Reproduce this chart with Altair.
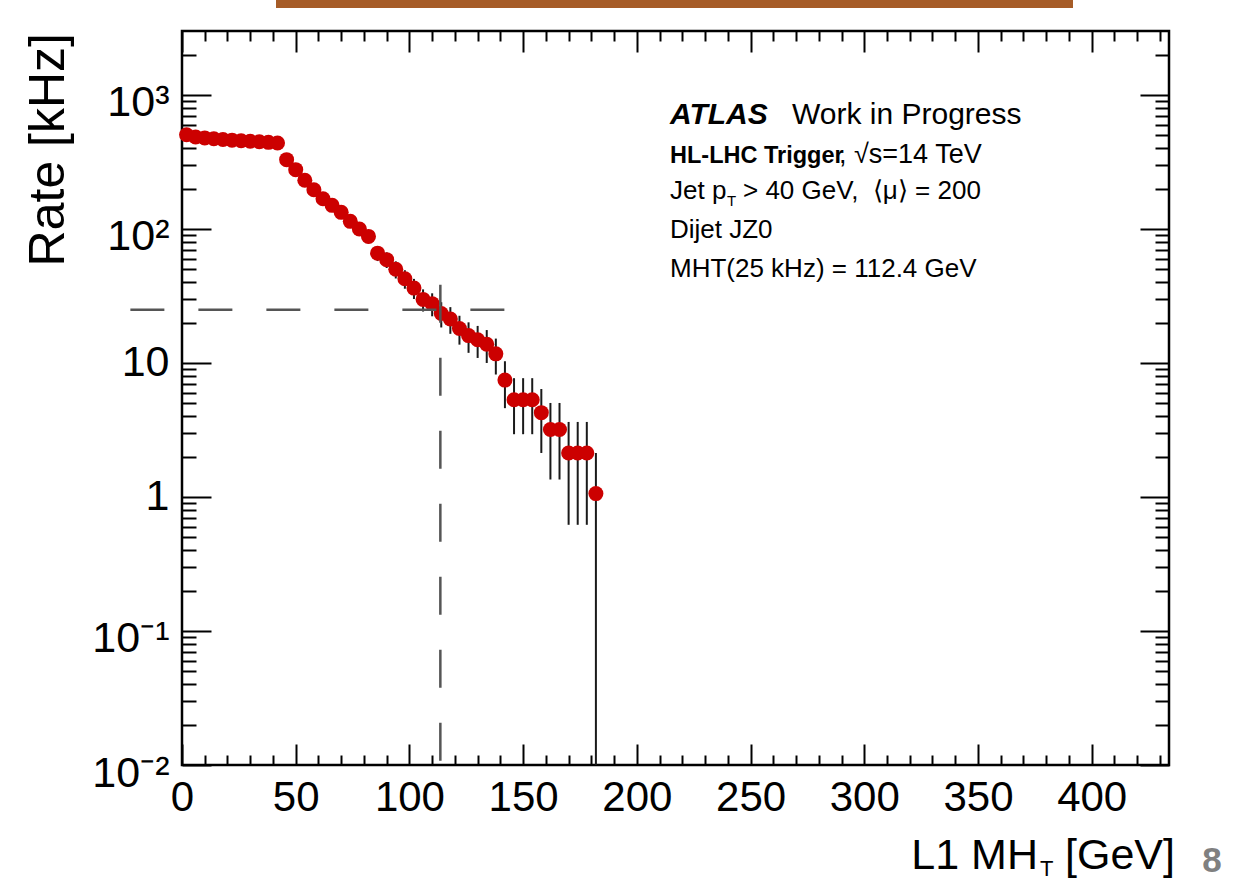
import altair as alt
import pandas as pd

# ---------------- data ----------------
mht_gev = [2, 6, 10, 14, 18, 22, 26, 30, 34, 38, 42,
           46, 50, 54, 58, 62, 66, 70, 74, 78, 82, 86, 90, 94, 98, 102,
           106, 110, 114, 118, 122, 126, 130, 134, 138, 142, 146, 150, 154,
           158, 162, 166, 170, 174, 178, 182]
rate_khz = [505, 485, 478, 471, 465, 460, 455, 451, 447, 443, 438,
            329, 277, 231, 196, 168, 150, 133, 114, 100, 88, 66, 59, 50, 42.5, 36.2,
            29.8, 27.7, 23.4, 21.3, 18.1, 16.0, 14.9, 13.8, 11.7, 7.45, 5.32, 5.32, 5.32,
            4.26, 3.19, 3.19, 2.13, 2.13, 2.13, 1.06]
err_low = [482, 462, 455, 449, 443, 438, 433, 429, 425, 421, 416,
           310, 260, 215, 182, 155, 137, 121, 103, 90, 78, 57.6, 51.1, 42.7, 35.8, 30.0,
           24.2, 22.3, 18.4, 16.5, 13.7, 11.9, 10.9, 10.0, 8.2, 4.6, 2.94, 2.94, 2.94,
           2.13, 1.35, 1.35, 0.62, 0.62, 0.62, 0.01]
err_high = [528, 508, 500, 493, 487, 482, 477, 473, 469, 465, 460,
            348, 294, 247, 210, 181, 163, 145, 125, 110, 98, 74.4, 66.9, 57.3, 49.2, 42.4,
            35.4, 33.1, 28.4, 26.1, 22.5, 20.1, 18.9, 17.6, 15.2, 10.3, 7.70, 7.70, 7.70,
            6.39, 5.03, 5.03, 3.63, 3.63, 3.63, 2.13]

cut_rate = [25]
hline_x_start = [-22.7]
hline_x_end = [142.2]
cut_mht = [113.6]
vline_y_top = [38.4]
vline_y_bottom = [0.0077]

x_domain = [0, 434]
y_domain = [0.01, 3000]
x_major = [0, 50, 100, 150, 200, 250, 300, 350, 400]
x_minor = [10, 20, 30, 40, 60, 70, 80, 90, 110, 120, 130, 140, 160, 170, 180, 190,
           210, 220, 230, 240, 260, 270, 280, 290, 310, 320, 330, 340, 360, 370, 380,
           390, 410, 420, 430]
y_major = [0.01, 0.1, 1, 10, 100, 1000]
y_minor = [0.02, 0.03, 0.04, 0.05, 0.06, 0.07, 0.08, 0.09,
           0.2, 0.3, 0.4, 0.5, 0.6, 0.7, 0.8, 0.9,
           2, 3, 4, 5, 6, 7, 8, 9,
           20, 30, 40, 50, 60, 70, 80, 90,
           200, 300, 400, 500, 600, 700, 800, 900, 2000]
y_label_expr = ("datum.value >= 1000 ? '10³' : datum.value >= 100 ? '10²' : "
                "datum.value >= 10 ? '10' : datum.value >= 1 ? '1' : "
                "datum.value >= 0.1 ? '10⁻¹' : '10⁻²'")

x_title_parts = ["L1 MH", "T", " [GeV]"]
y_title = "Rate [kHz]"
legend_lines = ["ATLAS", "Work in Progress", "HL-LHC Trigger", ", √s=14 TeV",
                "Jet p", "T", "> 40 GeV,\u00a0 ⟨μ⟩ = 200", "Dijet JZ0",
                "MHT(25 kHz) = 112.4 GeV"]
page_number = "8"

FONT = "Liberation Sans"
W, H = 987, 734

df = pd.DataFrame({"mht": mht_gev, "rate": rate_khz, "lo": err_low, "hi": err_high})
df_h = pd.DataFrame({"x": hline_x_start, "x2": hline_x_end, "y": cut_rate})
df_v = pd.DataFrame({"x": cut_mht, "y": vline_y_top, "y2": vline_y_bottom})

xs = alt.Scale(domain=x_domain, nice=False, zero=False)
ys = alt.Scale(type="log", domain=y_domain, nice=False)


def x_axis(orient, values, size, labels):
    kw = dict(orient=orient, values=values, tickSize=size, offset=-size, domain=False,
              grid=False, labels=labels, ticks=True, tickColor="black", tickWidth=2,
              title=None, labelFlush=False, labelOverlap=False)
    if labels:
        kw.update(labelFont=FONT, labelFontSize=42, labelPadding=12, labelColor="black")
    return alt.Axis(**kw)


def y_axis(orient, values, size, labels):
    kw = dict(orient=orient, values=values, tickSize=size, offset=-size, domain=False,
              grid=False, labels=labels, ticks=True, tickColor="black", tickWidth=2,
              title=None, labelFlush=False, labelOverlap=False)
    if labels:
        kw.update(labelFont=FONT, labelFontSize=43, labelPadding=13, labelColor="black",
                  labelExpr=y_label_expr,
                  labelOffset={"condition": {"test": "datum.value >= 100 || datum.value < 1",
                                             "value": 8}, "value": 0})
    return alt.Axis(**kw)


errbars = alt.Chart(df).mark_rule(color="#1a1a1a", strokeWidth=2).encode(
    x=alt.X("mht:Q", scale=xs, axis=x_axis("top", x_major, 21, False)),
    y=alt.Y("lo:Q", scale=ys, axis=y_axis("right", y_major, 29, False)),
    y2="hi:Q",
)
points = alt.Chart(df).mark_circle(size=225, color="#cc0000", opacity=1).encode(
    x=alt.X("mht:Q", scale=xs, axis=x_axis("top", x_minor, 10, False)),
    y=alt.Y("rate:Q", scale=ys, axis=y_axis("right", y_minor, 14, False)),
)
hline = alt.Chart(df_h).mark_rule(color="#555555", strokeWidth=2.5, strokeDash=[34, 34]).encode(
    x=alt.X("x:Q", scale=xs, axis=x_axis("bottom", x_major, 21, True)),
    x2="x2:Q",
    y=alt.Y("y:Q", scale=ys, axis=y_axis("left", y_major, 29, True)),
)
vline = alt.Chart(df_v).mark_rule(color="#555555", strokeWidth=2.5, strokeDash=[38, 35]).encode(
    x=alt.X("x:Q", scale=xs, axis=x_axis("bottom", x_minor, 10, False)),
    y=alt.Y("y:Q", scale=ys, axis=y_axis("left", y_minor, 14, False)),
    y2="y2:Q",
)

one = pd.DataFrame({"a": [0]})


def txt(text, x, y, size, weight="normal", style="normal", align="left",
        color="black", angle=0):
    kw = dict(text=text, font=FONT, fontSize=size, fontWeight=weight, fontStyle=style,
              align=align, baseline="alphabetic", color=color)
    if angle:
        kw["angle"] = angle
    return alt.Chart(one).mark_text(**kw).encode(x=alt.value(x), y=alt.value(y))


texts = [
    txt(legend_lines[0], 488, 93, 30, weight="bold", style="italic"),
    txt(legend_lines[1], 610, 93, 30),
    txt(legend_lines[2], 488, 132, 23.5, weight="bold"),
    txt(legend_lines[3], 657, 132, 27),
    txt(legend_lines[4], 488, 168, 26),
    txt(legend_lines[5], 545, 175, 15),
    txt(legend_lines[6], 561, 168, 26),
    txt(legend_lines[7], 488, 207, 26),
    txt(legend_lines[8], 488, 246, 26),
    txt(x_title_parts[0], 856, 838, 43, align="right"),
    txt(x_title_parts[1], 858, 845, 22),
    txt(x_title_parts[2], 993, 838, 43, align="right"),
    txt(y_title, -118, 2, 50, align="right", angle=270),
    txt(page_number, 1030, 841, 35, weight="bold", align="center", color="#808080"),
]

bar = alt.Chart(one).mark_rect(color="#a65c27").encode(
    x=alt.value(94), x2=alt.value(891), y=alt.value(-31), y2=alt.value(-23)
)

chart = alt.layer(errbars, points, hline, vline, bar, *texts).resolve_axis(
    x="independent", y="independent"
).properties(
    width=W, height=H,
    autosize=alt.AutoSizeParams(type="none"),
    padding={"left": 182, "top": 31, "right": 84, "bottom": 116},
    background="white",
).configure_view(stroke="black", strokeWidth=2.5)

chart.save("out.html", embed_options={"renderer": "svg", "actions": False})
